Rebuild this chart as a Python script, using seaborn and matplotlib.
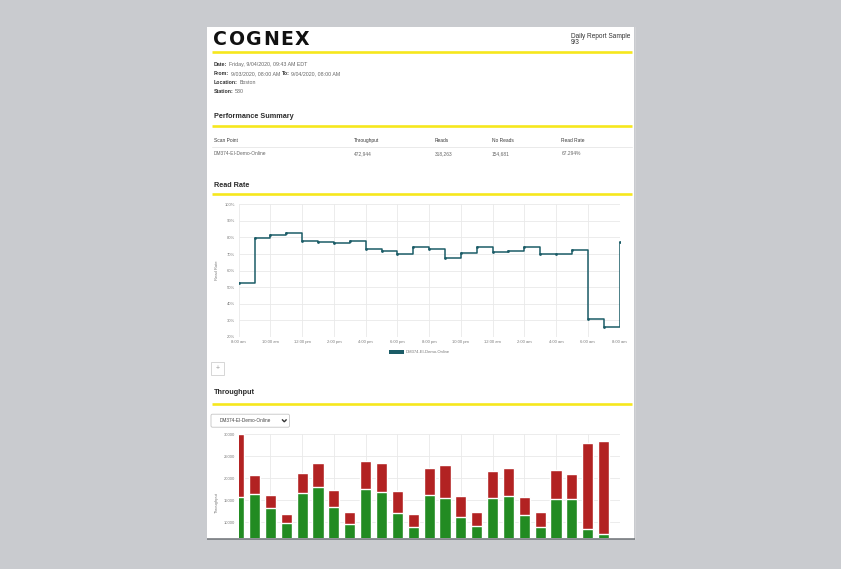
import matplotlib
matplotlib.use("Agg")
import matplotlib.pyplot as plt
from matplotlib.patches import Rectangle, FancyBboxPatch
import seaborn as sns

# ---------------- report content ----------------
report_title = "Daily Report Sample"
report_subtitle = "9/3"
logo_letters = list("COGNEX")

info_lines = [
    [("Date:", True), ("Friday, 9/04/2020, 09:43 AM EDT", False)],
    [("From:", True), ("9/03/2020, 08:00 AM", False), ("To:", True), ("9/04/2020, 08:00 AM", False)],
    [("Location:", True), ("Boston", False)],
    [("Station:", True), ("530", False)],
]

table_columns = ["Scan Point", "Throughput", "Reads", "No Reads", "Read Rate"]
table_row = ["DM374-EI-Demo-Online", "472,944", "318,263", "154,681", "67.294%"]

series_name = "DM374-EI-Demo-Online"

# hourly read rate (%), 8:00 am -> 8:00 am next day
rate_hours = list(range(25))
read_rate = [52.4, 79.5, 81.5, 82.5, 78.1, 77.1, 76.9, 77.9, 73.1, 71.9, 69.8, 74.5,
             73.1, 67.8, 70.5, 74.1, 71.3, 71.9, 74.1, 70.3, 70.3, 72.3, 30.7, 26.0, 77.5]
time_labels = ["8:00 am", "10:00 am", "12:00 pm", "2:00 pm", "4:00 pm", "6:00 pm", "8:00 pm",
               "10:00 pm", "12:00 am", "2:00 am", "4:00 am", "6:00 am", "8:00 am"]
rate_ticks = [20, 30, 40, 50, 60, 70, 80, 90, 100]
rate_tick_labels = ["20%", "30%", "40%", "50%", "60%", "70%", "80%", "90%", "100%"]

# hourly throughput (total) and good reads
bar_hours = list(range(24))
throughput = [29900, 20720, 16080, 11830, 21250, 23380, 17300, 12360, 23840, 23310, 17070, 11750,
              22170, 22850, 15860, 12210, 21630, 22240, 15700, 12360, 21710, 20950, 27950, 28480]
reads = [15780, 16460, 13190, 9770, 16620, 18060, 13350, 9620, 17450, 16840, 11980, 8860,
         16080, 15480, 11140, 9090, 15480, 16010, 11600, 8780, 15320, 15170, 8480, 7340]
tp_ticks = [10000, 15000, 20000, 25000, 30000]
tp_tick_labels = ["10000", "15000", "20000", "25000", "30000"]

# ---------------- styling ----------------
sns.set_style("white")
plt.rcParams["font.family"] = ["Liberation Sans", "DejaVu Sans"]

BG = "#c9cbcf"
YELLOW = "#f6e71d"
TEAL = "#1b5c67"
RED = "#b22222"
GREEN = "#228b22"
GRID = "#e9e9e9"
TICK = "#7a7a7a"

W, H = 841, 569
fig = plt.figure(figsize=(W / 100, H / 100), dpi=100, facecolor=BG)

# pixel-space layer for the page furniture
page = fig.add_axes([0, 0, 1, 1])
page.set_xlim(0, W)
page.set_ylim(H, 0)
page.axis("off")

page.add_patch(Rectangle((207.5, 27), 427, 511.5, facecolor="white", edgecolor="none"))
page.plot([634.8, 634.8], [27, 538.5], color="#d2d3d6", lw=0.8)
page.plot([207.5, 635.2], [538.9, 538.9], color="#6d7176", lw=1.1, solid_capstyle="butt")


def chain_text(x, y, segments, size, color_bold, color_norm, gap=1.1):
    prev = None
    for s, bold in segments:
        kw = dict(fontsize=size, fontweight="bold" if bold else "normal",
                  color=color_bold if bold else color_norm, ha="left")
        if prev is None:
            prev = page.text(x, y, s, va="baseline", **kw)
        else:
            prev = page.annotate(s, xy=(1, 0), xycoords=prev, xytext=(gap, 0),
                                 textcoords="offset points", va="bottom", **kw)
    return prev


# logo
prev = None
for ch in logo_letters:
    kw = dict(fontsize=13.6, fontweight="bold", color="#111111",
              family=["DejaVu Sans"], ha="left")
    if prev is None:
        prev = page.text(213.5, 45.0, ch, va="baseline", **kw)
    else:
        prev = page.annotate(ch, xy=(1, 0), xycoords=prev, xytext=(1.0, 0),
                             textcoords="offset points", va="bottom", **kw)

page.text(571, 36.2, report_title, fontsize=4.7, color="#333333", va="center", ha="left")
page.text(571, 42.2, report_subtitle, fontsize=4.7, color="#333333", va="center", ha="left")

# yellow rules under each section header
for yy in [52.0, 126.2, 194.3, 403.6]:
    page.plot([212, 632], [yy, yy], color=YELLOW, lw=1.9, solid_capstyle="butt")

# header info block
for i, segs in enumerate(info_lines):
    chain_text(214, 65.8 + i * 9.2, segs, 3.8, "#333333", "#666666")

# section headings
for yy, title in [(116.3, "Performance Summary"), (185.0, "Read Rate"), (392.7, "Throughput")]:
    page.text(214, yy, title, fontsize=5.2, fontweight="bold", color="#2b2b2b", va="center", ha="left")

# summary table
col_x = [214, 354, 435, 492, 561.5]
for cx, head, val in zip(col_x, table_columns, table_row):
    page.text(cx, 140.6, head, fontsize=3.5, color="#3a3a3a", va="center", ha="left")
    page.text(cx, 153.3, val, fontsize=3.5, color="#666666", va="center", ha="left")
page.plot([212, 632], [147.3, 147.3], color="#e6e6e6", lw=0.6)

# legend of the read-rate chart
page.add_patch(Rectangle((389.5, 349.6), 14.5, 4.8, facecolor=TEAL, edgecolor="none"))
page.text(406, 352.1, series_name, fontsize=3.0, color="#777777", va="center", ha="left")

# "+" button
page.add_patch(Rectangle((211, 361.7), 13.5, 13.3, facecolor="white", edgecolor="#d0d0d0", lw=0.6))
page.text(217.8, 368.3, "+", fontsize=5, color="#9a9a9a", va="center", ha="center")

# series selector
page.add_patch(FancyBboxPatch((211, 414.2), 78.5, 13.0, boxstyle="round,pad=0,rounding_size=1.5",
                              facecolor="white", edgecolor="#c4c4c4", lw=0.6))
page.text(219.7, 420.8, series_name, fontsize=3.4, color="#444444", va="center", ha="left")
page.plot([282.0, 284.3, 286.6], [419.4, 421.8, 419.4], color="#333333", lw=1.0,
          solid_joinstyle="miter", solid_capstyle="butt")


def place(x0, y0, x1, y1):
    ax = fig.add_axes([x0 / W, 1 - y1 / H, (x1 - x0) / W, (y1 - y0) / H])
    ax.patch.set_alpha(0)
    for sp in ax.spines.values():
        sp.set_visible(False)
    return ax


# ---------------- read rate chart ----------------
ax1 = place(238.7, 204.3, 619.5, 337.0)
sns.lineplot(x=rate_hours, y=read_rate, ax=ax1, color=TEAL, linewidth=1.1,
             drawstyle="steps-post", marker="o", markersize=2.0, markeredgewidth=0,
             legend=False)
ax1.set_xlim(0, 24)
ax1.set_ylim(20, 100)
ax1.set_xticks(range(0, 25, 2))
ax1.set_xticklabels(time_labels)
ax1.set_yticks(rate_ticks)
ax1.set_yticklabels(rate_tick_labels)
ax1.grid(True, color=GRID, linewidth=0.6)
ax1.set_axisbelow(True)
ax1.tick_params(length=0, labelsize=3.0, labelcolor=TICK)
ax1.tick_params(axis="x", pad=2.3)
ax1.tick_params(axis="y", pad=2.6)
ax1.set_xlabel("")
ax1.set_ylabel("Read Rate", fontsize=3.0, color=TICK)
ax1.yaxis.set_label_coords(-0.052, 0.5)

# ---------------- throughput chart ----------------
ax2 = place(238.7, 434.0, 619.5, 538.3)
sns.barplot(x=bar_hours, y=throughput, native_scale=True, color=RED, saturation=1,
            width=0.7, errorbar=None, ax=ax2)
sns.barplot(x=bar_hours, y=reads, native_scale=True, color=GREEN, saturation=1,
            width=0.7, errorbar=None, ax=ax2)
ax2.set_xlim(0, 24)
ax2.set_ylim(6300, 30000)
ax2.set_xticks(range(0, 25, 2))
ax2.set_xticklabels([])
ax2.set_yticks(tp_ticks)
ax2.set_yticklabels(tp_tick_labels)
ax2.grid(True, color=GRID, linewidth=0.6)
ax2.set_axisbelow(True)
ax2.tick_params(length=0, labelsize=3.0, labelcolor=TICK)
ax2.tick_params(axis="y", pad=2.6)
ax2.set_xlabel("")
ax2.set_ylabel("Throughput", fontsize=3.0, color=TICK)
ax2.yaxis.set_label_coords(-0.052, 0.34)

fig.savefig("out.png", dpi=100, facecolor=BG)
